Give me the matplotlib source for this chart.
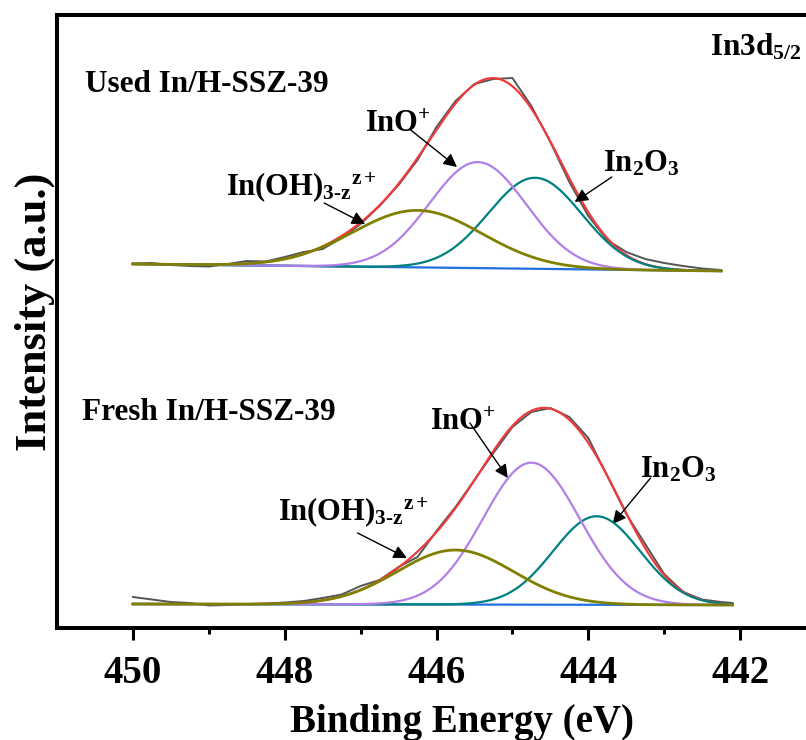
import numpy as np
import matplotlib
matplotlib.use('Agg')
import matplotlib.pyplot as plt

plt.rcParams['font.family'] = 'Liberation Serif'
plt.rcParams['font.weight'] = 'bold'
plt.rcParams['mathtext.fontset'] = 'custom'
plt.rcParams['mathtext.rm'] = 'Liberation Serif:bold'
plt.rcParams['mathtext.it'] = 'Liberation Serif:italic:bold'
plt.rcParams['mathtext.bf'] = 'Liberation Serif:bold'

# raw In3d5/2 spectra (binding energy, counts a.u. incl. stacking offset)
be_raw = [450.00, 449.75, 449.50, 449.25, 449.00, 448.75, 448.50, 448.25,
          448.00, 447.75, 447.50, 447.25, 447.00, 446.75, 446.50, 446.25,
          446.00, 445.75, 445.50, 445.25, 445.00, 444.75, 444.50, 444.25,
          444.00, 443.75, 443.50, 443.25, 443.00, 442.75, 442.50, 442.25]
used_raw = [364.5, 365, 363, 362, 361.5, 364, 367, 366.5,
            371, 376, 379, 390, 404, 422, 443, 468,
            501, 527, 544, 549, 550, 522, 486, 446,
            412, 388, 376, 369, 365, 362, 359.5, 358]
be_raw_fresh = be_raw + [442.10]
fresh_raw = [31, 28.5, 26, 25, 22.5, 23, 24, 24.5,
             25.5, 27, 30, 33.5, 42, 48, 61, 71,
             97, 121, 148, 175, 201, 216, 220, 211,
             190, 152, 114, 84, 54, 36, 28.5, 26, 25]

# fitted components: In(OH)3-z z+, InO+, In2O3
used_center = [446.25, 445.455, 444.70]
used_height = [57, 106, 91]
used_fwhm = [2.0, 1.5, 1.45]
used_bg = [364, 357]          # linear background at the two ends
used_range = [450.0, 442.25]

fresh_center = [445.75, 444.75, 443.89]
fresh_height = [54.5, 142, 88.5]
fresh_fwhm = [1.8, 1.5, 1.35]
fresh_bg = [24, 23]
fresh_range = [450.0, 442.10]

comp_colors = ['#808000', '#b27fe6', '#008080']


def peak(x, c, h, w):
    s = w / 2.3548
    return h * np.exp(-0.5 * ((x - c) / s) ** 2)


fig = plt.figure(figsize=(8.06, 7.40), dpi=100)
ax = fig.add_axes([57 / 806, 112 / 740, 759 / 806, 613 / 740])


def draw_set(raw_x, raw_y, centers, heights, fwhms, bg, rng):
    x = np.linspace(rng[0], rng[1], 500)
    base = np.interp(x, rng[::-1], bg[::-1])
    comps = [peak(x, c, h, w) for c, h, w in zip(centers, heights, fwhms)]
    ax.plot(raw_x, raw_y, color='#555555', lw=1.4, zorder=2)
    ax.plot(x, base + sum(comps), color='#ee3b3b', lw=1.6, zorder=3)
    ax.plot(x, base, color='#1f6fdc', lw=1.6, zorder=3)
    for i in [2, 1, 0]:
        ax.plot(x, base + comps[i], color=comp_colors[i],
                lw=2.0 if i == 0 else 1.6, zorder=4)


draw_set(be_raw, used_raw, used_center, used_height, used_fwhm, used_bg, used_range)
draw_set(be_raw_fresh, fresh_raw, fresh_center, fresh_height, fresh_fwhm, fresh_bg, fresh_range)

ax.set_xlim(451, 441)
ax.set_ylim(0, 613)
ax.set_xticks([450, 448, 446, 444, 442])
ax.set_xticks([449, 447, 445, 443], minor=True)
ax.set_yticks([])
ax.tick_params(axis='x', which='major', direction='out', length=8.5, width=2.2,
               labelsize=28, pad=11)
ax.tick_params(axis='x', which='minor', direction='out', length=4.5, width=2.2)
for sp in ax.spines.values():
    sp.set_linewidth(2.9)

fig.text(462 / 806, 1 - 732 / 740, 'Binding Energy (eV)', fontsize=28,
         ha='center', va='baseline')
fig.text(35 / 806, 1 - 312 / 740, 'Intensity (a.u.)', fontsize=32,
         rotation=90, ha='center', va='center')

ax.text(450.63, 536, 'Used In/H-SSZ-39', fontsize=22.5, ha='left', va='baseline')
ax.text(450.67, 208, 'Fresh In/H-SSZ-39', fontsize=22.5, ha='left', va='baseline')
ax.text(442.40, 573, r'In3d$_{\mathrm{5/2}}$', fontsize=22.5, ha='left', va='baseline')

oh_label = r'In(OH)$_{\mathrm{3\text{-}z}}{}^{\mathrm{z+}}$'
ino_label = r'InO$^{\mathrm{+}}$'
in2o3_label = r'In$_{\mathrm{2}}$O$_{\mathrm{3}}$'

labels = [
    (oh_label, (448.77, 433), (447.48, 425), (446.94, 404)),
    (ino_label, (446.94, 496), (446.34, 498), (445.73, 461)),
    (in2o3_label, (443.81, 456), (443.69, 451), (444.18, 426)),
    (oh_label, (448.09, 108), (447.04, 95), (446.39, 70)),
    (ino_label, (446.09, 198), (445.56, 205), (445.06, 150)),
    (in2o3_label, (443.32, 151), (443.18, 150), (443.68, 104)),
]
for txt, pos, tail, head in labels:
    ax.text(pos[0], pos[1], txt, fontsize=22, ha='left', va='baseline')
    ax.annotate('', xy=head, xytext=tail,
                arrowprops=dict(arrowstyle='-|>', color='k', lw=1.0,
                                mutation_scale=20, shrinkA=0, shrinkB=0))

fig.savefig('out.png', dpi=100)
